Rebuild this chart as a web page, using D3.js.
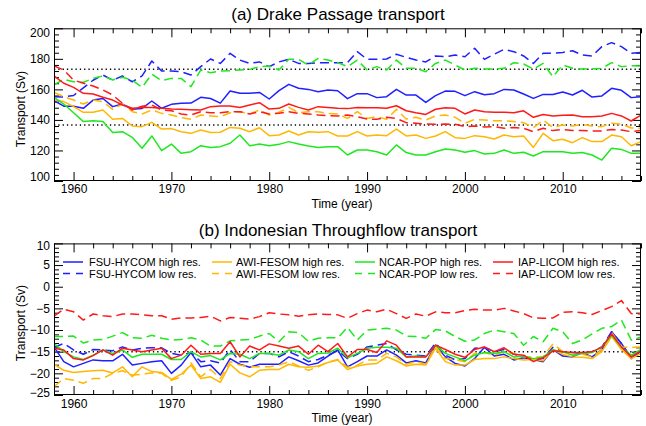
<!DOCTYPE html>
<html><head><meta charset="utf-8">
<script src="https://cdn.jsdelivr.net/npm/d3@7"></script>
<style>
body{margin:0;background:#fff}
svg{display:block}
text{font-family:"Liberation Sans",Arial,Helvetica,sans-serif;fill:#000}
</style>
</head><body>
<svg id="c" width="646" height="426"></svg>
<script>
// ---------------- DATA ----------------
const years = d3.range(1958, 2019); // 1958..2018
const xTickLabels = [1960, 1970, 1980, 1990, 2000, 2010];
const dpTicks = [100, 120, 140, 160, 180, 200];
const itfTicks = [-25, -20, -15, -10, -5, 0, 5, 10];
const dpObs = [173.2, 136.7];
const itfObs = [-15];

// Drake Passage transport (Sv)
const fsuHighDP = [152.6,149,149,147.6,153,154,148.7,150.4,147,147.5,152.4,147.6,150.2,150.9,151,154.8,154,151,159,157.4,157.4,158,153.7,159.2,163.3,160.7,160,158.5,159.6,
 159.1,153.9,157.2,157.2,154.6,155.2,160,156.3,156.3,151.5,155.9,158.9,158.7,155.9,158.5,156.5,157.2,160,159.6,157,154.1,156.7,156.7,158.3,156.3,159.4,155,155.7,160.7,159.4,154.6,155.2];
const fsuLowDP = [155.2,155,156,161,166,169.4,166,168.8,165,168.8,178.6,172,172,171.6,169.4,174.9,179.9,177,183.6,179.2,177,178,174.9,178,179.7,177,177,177.5,177.5,
 177.5,177.5,184.7,179.7,179.7,179.9,183,181,179.2,178,181.9,181.4,182.5,181.4,186.9,179.7,183,186.2,184.7,181.9,177,183.6,183.6,184.2,185.3,182.5,181.9,188,190.6,188,183.6,184.2];
const awiHighDP = [153,152,148.7,145,145,146.5,140.4,141,136,135.6,138.4,134,134.3,132.3,131.2,133.4,131.7,131.9,135.1,134.5,132.3,134.9,129.7,130.1,132.7,130.1,132.3,131.9,132.3,
 129.5,129.5,132.3,129.5,130.1,129.7,134,129.5,130.1,127.9,129.5,132.3,128.4,127.9,129.7,129,127.5,130.1,129,129.5,122,131.2,126.4,127.3,125.1,128.4,125.8,125.8,130.1,129,123.1,125.8];
const awiLowDP = [158,155.2,153,150.4,153,152,146.9,150.4,145.4,143.9,146.5,144.3,143.2,141.5,140.4,143.2,142.6,142.1,144.7,145.4,143.9,146.5,143.2,145,148.2,144.7,145.4,145.4,144.3,
 143.9,141,145.4,141,142.1,140.4,146.9,140.6,141.7,139.9,142.6,143.2,141.7,137.8,140.4,139.9,139.5,139.5,138.9,138.2,134.9,139.9,135.1,136.7,136,137.1,136,135.6,137.8,137.3,134.7,134.5];
const ncarHighDP = [154.8,150.4,144.7,138.9,139.5,138.9,131.7,132.3,128.6,121.4,129.5,119.9,124.2,118.1,119.2,123.1,122,122.5,124.7,130.1,123.1,124.2,123.1,124,125.8,124.2,122.9,122,122.5,
 122.5,117,120.3,120.3,119.2,117,123.6,118.6,117,117,119.2,120.9,120.3,118.8,119.9,117.7,118.1,120.3,118.1,118.8,116.4,119.2,119.2,119.2,118.1,118.6,117,113.7,121.4,120.7,118.1,118.1];
const ncarLowDP = [162.9,166.6,165,164.6,167.2,168.8,166.1,168,166,161.3,170,165.7,167.2,167.2,161.8,172.7,170.9,172,172.2,172.7,173.1,174.9,175.3,172.7,179.7,179.7,176,180.3,179.2,
 177.5,174.9,179.2,172.7,174.9,172.7,179.2,173.8,173.8,171.6,177,179.2,176,172.7,173.8,173.3,173.3,173.8,177.5,176.6,173.3,177,168.3,176,173.8,173.3,173.3,173.8,177.5,174.9,175.5,175.3];
const iapHighDP = [168.8,164,161.3,157.4,157,154.8,153,149.8,147.6,148.2,148.2,147.6,147.1,147,146.7,146.5,148.7,149.1,149.1,148.2,149.8,151.3,147.1,147.6,150.4,148.2,146.5,148.7,148.2,
 147.6,147.4,148.2,148,148,147.6,149.3,146,144.7,143.6,147,148,147.6,143.9,146.5,145.4,145,145,144.7,146,141.7,143.6,142.6,143,143.2,142.1,142.1,142.6,144.3,142.6,139.3,143.2];
const iapLowDP = [175.3,172.7,166.1,164,162.2,159.6,156.3,150.9,146.5,149,149.8,146.5,146,143.9,143.2,145.4,144.7,144.7,145.4,145.4,143.9,145.4,143.9,144.3,145.4,144.3,143.9,143.2,142.8,
 142.6,143.2,142.1,140.6,140.4,141.7,141,138.2,137.8,137.3,137.1,137.3,137.1,135.6,136,135.4,135.6,134.5,135.1,134.5,132.3,134.5,133,133.8,133,133,132.7,132.7,133.8,133.4,132.3,133];

// Indonesian Throughflow transport (Sv)
const fsuHighITF = [-13.9,-17.3,-18.5,-17.7,-16.9,-17.1,-17.1,-15.6,-18.1,-17.7,-17.3,-17.1,-20,-18.1,-15.2,-18.5,-18.1,-20.4,-16.6,-17.9,-18.6,-17.9,-17.9,-17.9,-16.2,-17.1,-18.1,-17.6,-16,
 -14.6,-18.5,-17.3,-16,-16,-14.6,-15.8,-17.6,-17.1,-17.6,-13.5,-16.2,-17.7,-18.3,-16.6,-14,-16,-15.6,-16.9,-16.4,-16.8,-17.3,-14.5,-16,-16.2,-15.2,-16.2,-14.5,-10.4,-13.1,-16.6,-14.8];
const fsuLowITF = [-14,-13.1,-14.6,-15.6,-14.5,-14.6,-14.8,-13.9,-14.6,-14.2,-14.1,-14.1,-15.4,-15.8,-15.2,-17.3,-17.1,-17.6,-14.5,-17.3,-17.3,-15.4,-15.4,-16.2,-15,-16,-17.3,-16.8,-15.8,
 -14.8,-16.6,-15.6,-13.9,-13.5,-13.1,-14.6,-15.6,-15.8,-16,-13,-15.8,-16.9,-16.6,-14.2,-14,-15,-14.5,-15.6,-16,-16.8,-16.6,-14,-15,-15.2,-15.4,-15,-13.9,-10.4,-13.1,-16.3,-15];
const awiHighITF = [-17.9,-19.3,-19.8,-19.6,-19.4,-19.3,-19.9,-18.5,-20.8,-18.5,-19.6,-19.8,-21.4,-20.2,-18.1,-21.2,-20.8,-22.1,-17.9,-19.9,-20.8,-19.3,-19.1,-19.1,-17.9,-18.5,-18.6,-18.3,-17.5,
 -16.9,-19.1,-18.3,-17.9,-17.7,-16.2,-17.1,-18.3,-17.9,-18.1,-14.2,-17.3,-18.1,-18.1,-16.8,-16.6,-16.6,-16.2,-16.6,-16.9,-16.8,-17.1,-14.5,-15.6,-16.2,-16.3,-16.6,-15,-11.5,-14.5,-16.6,-15.4];
const awiLowITF = [-23.1,-21.2,-21.6,-22.3,-21.2,-21.2,-20,-19.4,-20.4,-20.2,-19.9,-20,-21.6,-20.8,-17.6,-20.8,-19.1,-21.2,-17.3,-18.1,-18.5,-18.5,-18.5,-18.1,-17.3,-18.3,-19.3,-18.5,-17.4,
 -16.8,-18.6,-18.1,-16.9,-16.9,-15.4,-16.2,-17.9,-17.3,-17.9,-13.7,-16.6,-16.8,-17.3,-15.4,-15.2,-15.8,-15,-15.4,-16.2,-16.2,-16.2,-13.2,-15,-15.8,-15.6,-16.2,-14.6,-10.6,-13.9,-14,-13.9];
const ncarHighITF = [-13.1,-15,-16.2,-16.8,-15.8,-14.6,-15.4,-14.6,-16.3,-15.6,-15.6,-15.6,-16.8,-16.8,-15,-16.2,-15.9,-16.9,-15.4,-15.6,-16.6,-15.4,-15.4,-15.8,-14.6,-15,-16.6,-15.4,-15.3,
 -14.2,-16.4,-15.4,-14.2,-14,-14,-14.2,-16.2,-16,-16.2,-13.5,-15.4,-16.2,-17.1,-15.8,-15.2,-15.4,-15,-16.2,-16,-16.6,-16.2,-14.6,-15,-15.8,-15.4,-15.2,-13.9,-11.2,-14,-15.8,-14.5];
const ncarLowITF = [-11.5,-11.5,-11.4,-13,-12.3,-12.2,-11.4,-10.6,-11.8,-11.9,-11.2,-11.9,-12.3,-12.2,-11.8,-12.3,-13.7,-13.7,-12.5,-12.3,-12.2,-11.4,-10.8,-12.7,-10.4,-10.6,-12.6,-11.9,-11.8,
 -11.8,-9.4,-12.3,-10,-9.8,-9.6,-10,-11.4,-11.5,-11.9,-9.9,-10.2,-11.5,-12.6,-12.3,-10.8,-10,-10.4,-10.8,-13.5,-11.5,-12.7,-9.6,-10.4,-13.1,-12.3,-10.9,-9.6,-9.2,-7.7,-12.3,-11.6];
const iapHighITF = [-14.2,-14.6,-16.6,-16.9,-15.9,-14.6,-15.8,-14.2,-14.6,-15,-14.6,-14.2,-16.6,-15.8,-13.5,-15.6,-15.4,-15.4,-12.7,-16.2,-13.7,-14.6,-13.2,-13.7,-14.2,-13.7,-15.6,-13.5,-15,
 -13.1,-16.2,-14.5,-14.5,-15.2,-12.5,-13.5,-16.2,-16.2,-16.2,-13.5,-14.5,-15.6,-16.3,-14.5,-13.9,-15,-14.1,-15.6,-15.8,-17.3,-16.4,-14.8,-15,-15.2,-15.2,-15,-14,-10.9,-13.9,-16.2,-14.8];
const iapLowITF = [-6.8,-5.2,-5.8,-7.7,-6.3,-6.7,-6.9,-6.3,-6.3,-6.5,-6.7,-6.7,-7.5,-7.2,-7.2,-7.1,-6.8,-7.9,-7.1,-7.3,-7.5,-6.9,-6.0,-6.3,-6.5,-6.8,-6.5,-6.3,-6.4,
 -6.5,-7.3,-6.2,-5.4,-5.8,-5.2,-6.2,-7.3,-6.3,-6.8,-5.8,-6.0,-6.0,-5.5,-5.2,-5.4,-5.4,-5.0,-5.6,-6.2,-7.2,-7.3,-7.2,-5.9,-5.8,-6.0,-6.4,-5.5,-4.6,-3.2,-6.2,-6.3];

const seriesNames = ["FSU-HYCOM high res.","FSU-HYCOM low res.","AWI-FESOM high res.","AWI-FESOM low res.",
  "NCAR-POP high res.","NCAR-POP low res.","IAP-LICOM high res.","IAP-LICOM low res."];
const seriesColors = ["#1f1fff","#1f1fff","#ffb700","#ffb700","#1ee81e","#1ee81e","#ff1a1a","#ff1a1a"];
const seriesDashed = [false,true,false,true,false,true,false,true];
const dpSeries = [fsuHighDP,fsuLowDP,awiHighDP,awiLowDP,ncarHighDP,ncarLowDP,iapHighDP,iapLowDP];
const itfSeries = [fsuHighITF,fsuLowITF,awiHighITF,awiLowITF,ncarHighITF,ncarLowITF,iapHighITF,iapLowITF];

// ---------------- DRAW ----------------
const svg = d3.select("#c");
svg.append("rect").attr("width",646).attr("height",426).attr("fill","#fff");

const X0 = 54, X1 = 641;
const x = d3.scaleLinear().domain([1958, 2018]).range([X0, X1]);
const xMinor = d3.range(1958, 2019, 2).filter(v => v % 10 !== 0);
const DASH = "9,5";

function panel(opt){
  const {y, yMajor, yMinor, series, obs, title, titleY, xlabY, ylabY, endShift, xPad} = opt;
  const [yB, yT] = y.range();
  const g = svg.append("g");

  const minorY = yMinor.filter(v => !yMajor.includes(v));
  g.append("g").attr("transform",`translate(0,${yB})`)
    .call(d3.axisBottom(x).tickValues(xMinor).tickSize(-5).tickFormat(""));
  g.append("g").attr("transform",`translate(0,${yT})`)
    .call(d3.axisTop(x).tickValues(xMinor).tickSize(-5).tickFormat(""));
  g.append("g").attr("transform",`translate(${X0},0)`)
    .call(d3.axisLeft(y).tickValues(minorY).tickSize(-5).tickFormat(""));
  g.append("g").attr("transform",`translate(${X1},0)`)
    .call(d3.axisRight(y).tickValues(minorY).tickSize(-5).tickFormat(""));
  g.append("g").attr("transform",`translate(0,${yB})`)
    .call(d3.axisBottom(x).tickValues(xTickLabels).tickSize(-9).tickPadding(xPad).tickFormat(d3.format("d")));
  g.append("g").attr("transform",`translate(0,${yT})`)
    .call(d3.axisTop(x).tickValues(xTickLabels).tickSize(-9).tickFormat(""));
  const yl = g.append("g").attr("transform",`translate(${X0},0)`)
    .call(d3.axisLeft(y).tickValues(yMajor).tickSize(-9).tickPadding(4).tickFormat(d3.format("d")));
  g.append("g").attr("transform",`translate(${X1},0)`)
    .call(d3.axisRight(y).tickValues(yMajor).tickSize(-9).tickFormat(""));
  g.selectAll(".domain").remove();
  g.selectAll(".tick line").attr("stroke","#000");
  g.selectAll(".tick text").attr("font-size",12).attr("font-family","'Liberation Sans',Arial,sans-serif").attr("fill","#000");
  const lo = d3.min(yMajor), hi = d3.max(yMajor);
  yl.selectAll(".tick").filter(d => d === hi).select("text").attr("y", endShift);
  yl.selectAll(".tick").filter(d => d === lo).select("text").attr("y", -endShift);

  g.selectAll("line.obs").data(obs).enter().append("line")
    .attr("x1",X0).attr("x2",X1).attr("y1",d=>y(d)).attr("y2",d=>y(d))
    .attr("stroke","#000").attr("stroke-width",1.6).attr("stroke-dasharray","1.3,3");

  const line = d3.line().x((d,i)=>x(years[i])).y(d=>y(d));
  const clipId = "clip" + Math.round(yT);
  svg.append("clipPath").attr("id",clipId).append("rect")
    .attr("x",X0).attr("y",yT).attr("width",X1-X0).attr("height",yB-yT);
  const sg = g.append("g").attr("clip-path",`url(#${clipId})`);
  series.forEach((s,i)=>{
    sg.append("path").datum(s).attr("d",line).attr("fill","none")
      .attr("stroke",seriesColors[i]).attr("stroke-width",1.5)
      .attr("stroke-linejoin","round")
      .attr("stroke-dasharray",seriesDashed[i]?DASH:null);
  });

  g.append("rect").attr("x",X0+0.5).attr("y",yT+0.5).attr("width",X1-X0-1).attr("height",yB-yT-1)
    .attr("fill","none").attr("stroke","#000").attr("stroke-width",1);

  svg.append("text").attr("x",338).attr("y",titleY).attr("text-anchor","middle")
    .attr("font-size",17).text(title);
  svg.append("text").attr("x",342).attr("y",xlabY).attr("text-anchor","middle")
    .attr("font-size",12).text("Time (year)");
  svg.append("text").attr("transform",`translate(24.5,${ylabY}) rotate(-90)`).attr("text-anchor","middle")
    .attr("font-size",12).text("Transport (Sv)");
  return g;
}

const yDP = d3.scaleLinear().domain([100, 200]).range([181, 28.3]);
panel({y:yDP, yMajor:dpTicks, yMinor:d3.range(100,201,4), series:dpSeries, obs:dpObs,
  title:"(a) Drake Passage transport", titleY:20, xlabY:208, ylabY:109, endShift:4, xPad:3});

const yITF = d3.scaleLinear().domain([-25, 10]).range([395, 243.4]);
panel({y:yITF, yMajor:itfTicks, yMinor:d3.range(-25,11,1), series:itfSeries, obs:itfObs,
  title:"(b) Indonesian Throughflow transport", titleY:236, xlabY:422, ylabY:323, endShift:2.6, xPad:4});

const legCols = [[63,89],[212,236],[355,379],[493,518]];
const legRows = [262, 273.5];
const leg = svg.append("g");
seriesNames.forEach((name,i)=>{
  const col = legCols[Math.floor(i/2)], ry = legRows[i%2];
  leg.append("line").attr("x1",col[0]).attr("x2",col[0]+20).attr("y1",ry).attr("y2",ry)
    .attr("stroke",seriesColors[i]).attr("stroke-width",1.5)
    .attr("stroke-dasharray",seriesDashed[i]?"7,6":null);
  leg.append("text").attr("x",col[1]).attr("y",ry+4).attr("font-size",11).text(name);
});
</script>
</body></html>
